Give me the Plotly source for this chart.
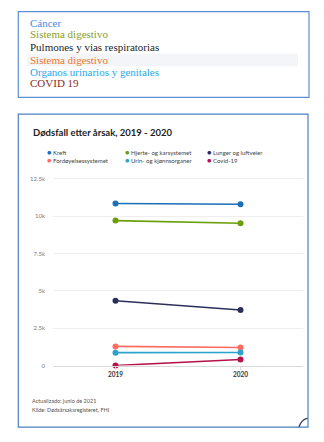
import plotly.graph_objects as go

W, H = 324, 442

years = [2019, 2020]
year_labels = ["2019", "2020"]
series_names = ["Kreft", "Hjerte- og karsystemet", "Lunger og luftveier",
                "Fordøyelsessystemet", "Urin- og kjønnsorganer", "Covid-19"]
kreft = [10850, 10800]
hjerte = [9700, 9520]
lunger = [4340, 3720]
fordoyelse = [1280, 1210]
urin = [860, 870]
covid = [0, 400]
series_values = [kreft, hjerte, lunger, fordoyelse, urin, covid]
series_colors = ["#1a6fb8", "#6a9f0a", "#2c2f5b", "#ff6b5e", "#2ba3cc", "#b5124a"]

y_tickvals = [0, 2500, 5000, 7500, 10000, 12500]
y_ticktext = ["0", "2.5k", "5k", "7.5k", "10k", "12.5k"]

top_lines = ["Cáncer", "Sistema digestivo", "Pulmones y vias respiratorias",
             "Sistema digestivo", "Organos urinarios y genitales", "COVID 19"]
top_colors = ["#4a8ad8", "#8a9e2c", "#1e1e1e", "#f0782a", "#1ea8ee", "#8a2a1c"]

title_text = "Dødsfall etter årsak, 2019 - 2020"
footer_lines = ["Actualizado: junio de 2021", "Kilde: Dødsårsaksregisteret, FHI"]

def px(x):
    return x / W

def py(y):
    return 1 - y / H

fig = go.Figure()
for name, vals, col in zip(series_names, series_values, series_colors):
    fig.add_trace(go.Scatter(
        x=years, y=vals, mode="lines+markers", name=name,
        line=dict(color=col, width=1.6), marker=dict(color=col, size=6),
        cliponaxis=False, showlegend=False,
    ))

# legend: one small legend per entry, laid out as 3 columns x 2 rows
legend_ids = ["legend", "legend2", "legend3", "legend4", "legend5", "legend6"]
for name, col, lid in zip(series_names, series_colors, legend_ids):
    fig.add_trace(go.Scatter(
        x=[None], y=[None], mode="markers",
        name=f'<span style="color:{col};font-size:7.5px">●</span> {name}',
        marker=dict(color="rgba(0,0,0,0)", size=1, line=dict(width=0)),
        showlegend=True, legend=lid,
    ))

col_x = [7, 85, 167]
row_y = [153.3, 161.3]
legend_layout = {}
for i, lid in enumerate(legend_ids):
    legend_layout[lid] = dict(
        x=px(col_x[i % 3]), y=py(row_y[i // 3]), xanchor="left", yanchor="middle",
        orientation="h", itemwidth=30,
        font=dict(family="Lato", size=6, color="#444"),
        bgcolor="rgba(0,0,0,0)", borderwidth=0,
    )

shapes = []
# top box
shapes.append(dict(type="rect", xref="paper", yref="paper",
                   x0=px(27), x1=px(298), y0=py(66.7), y1=py(54),
                   fillcolor="#f3f5f8", line=dict(width=0), layer="below"))
shapes.append(dict(type="rect", xref="paper", yref="paper",
                   x0=px(18.3), x1=px(309), y0=py(98), y1=py(11.7),
                   line=dict(color="#5b8fd6", width=1.2)))
# bottom box
shapes.append(dict(type="rect", xref="paper", yref="paper",
                   x0=px(18.3), x1=px(308), y0=py(430), y1=py(115),
                   line=dict(color="#4b80c4", width=1.2)))
# corner arc
shapes.append(dict(type="path", xref="paper", yref="paper",
                   path=f"M {px(299)} {py(430)} Q {px(301)} {py(423)} {px(307.5)} {py(421)}",
                   line=dict(color="#3a3f6a", width=1.2)))

annotations = []
line_ys = [22.7, 34.7, 47.7, 60.3, 72.3, 83.3]
for t, c, yy in zip(top_lines, top_colors, line_ys):
    annotations.append(dict(text=t, x=px(28), y=py(yy), xref="paper", yref="paper",
                            xanchor="left", yanchor="middle", showarrow=False,
                            font=dict(family="Liberation Serif", size=11, color=c)))
annotations.append(dict(text=f"<b>{title_text}</b>", x=px(31), y=py(133.3), xref="paper", yref="paper",
                        xanchor="left", yanchor="middle", showarrow=False,
                        font=dict(family="Lato", size=9.5, color="#222")))
for t, yy in zip(footer_lines, [404, 412.7]):
    annotations.append(dict(text=t, x=px(29.5), y=py(yy), xref="paper", yref="paper",
                            xanchor="left", yanchor="middle", showarrow=False,
                            font=dict(family="Lato", size=5.5, color="#555")))

fig.update_layout(
    width=W, height=H, margin=dict(l=0, r=0, t=0, b=0),
    paper_bgcolor="white", plot_bgcolor="white",
    font=dict(family="Lato", color="#444"),
    shapes=shapes, annotations=annotations,
    showlegend=True,
    xaxis=dict(domain=[px(53), px(303)], range=[2018.5, 2020.5],
               tickvals=years, ticktext=[f"<b>{t}</b>" for t in year_labels],
               tickfont=dict(family="Lato", size=6.5, color="#333"),
               showgrid=False, zeroline=False, showline=True, linecolor="#d9d9d9", linewidth=1,
               ticks="outside", ticklen=3, tickcolor="#dddddd", fixedrange=True),
    yaxis=dict(domain=[py(368), py(172.5)], range=[0, 13000],
               tickvals=y_tickvals, ticktext=y_ticktext,
               tickfont=dict(family="Lato", size=6, color="#777"),
               showgrid=True, gridcolor="#eeeeee", gridwidth=1, zeroline=False,
               showline=False, ticks="", ticklabelstandoff=7, fixedrange=True),
    **legend_layout,
)

fig.write_html("out.html")
